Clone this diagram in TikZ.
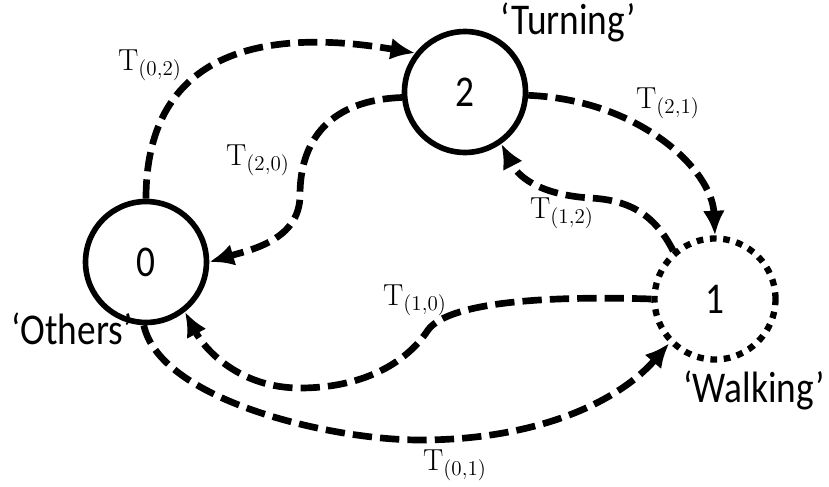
\documentclass[tikz,border=0pt]{standalone}
\usepackage[no-math]{fontspec}
\setmainfont{Carlito}[FakeStretch=0.85]
\usetikzlibrary{arrows.meta}

\begin{document}
\begin{tikzpicture}[
  x=0.02cm, y=-0.02cm,
  >={Latex[length=14pt,width=12.5pt]},
  state/.style={circle, draw, line width=3.2pt, minimum size=2.42cm, inner sep=0pt,
                font=\fontsize{25}{30}\selectfont},
  hidden/.style={state, line width=3.6pt, dash pattern=on 3.8pt off 3.8pt},
  tag/.style={font=\fontsize{25}{30}\selectfont},
  lbl/.style={font=\fontsize{18}{21}\selectfont},
  trans/.style={->, line width=3.8pt, dash pattern=on 11pt off 4.6pt}
]
\useasboundingbox (0,0) rectangle (829,487);
\node[state] (zero) at (146,262) {0};
\node[state] (two) at (465,92) {2};
\node[hidden] (one) at (715,299) {1};

\node[tag] (others) at (72,329) {‘Others’};
\node[tag] (turning) at (568,22) {‘Turning’};
\node[tag] (walking) at (754,390) {‘Walking’};

\draw[trans] (zero.north) .. controls (146,60) and (250,25) .. (two.142);
\draw[trans] (two.185) .. controls (330,100) and (300,140) .. (300,195)
  .. controls (300,240) and (250,250) .. (zero.east);
\draw[trans] (two.-3) .. controls (640,100) and (712,170) .. (one.north);
\draw[trans] (one.131) .. controls (655,215) and (630,200) .. (590,198)
  .. controls (545,195) and (520,180) .. (two.-55);
\draw[trans] (one.west) .. controls (560,296) and (450,300) .. (428,330)
  .. controls (405,365) and (360,388) .. (300,388)
  .. controls (240,388) and (205,350) .. (zero.-52);
\draw[trans] (zero.-92) .. controls (160,400) and (330,440) .. (420,440)
  .. controls (540,440) and (620,400) .. (one.224);

\node[lbl] (t02) at (150,65) {$\mathrm{T}_{(0,2)}$};
\node[lbl] (t20) at (258,160) {$\mathrm{T}_{(2,0)}$};
\node[lbl] (t21) at (668,103) {$\mathrm{T}_{(2,1)}$};
\node[lbl] (t12) at (562,213) {$\mathrm{T}_{(1,2)}$};
\node[lbl] (t10) at (415,300) {$\mathrm{T}_{(1,0)}$};
\node[lbl] (t01) at (455,465) {$\mathrm{T}_{(0,1)}$};
\end{tikzpicture}
\end{document}
